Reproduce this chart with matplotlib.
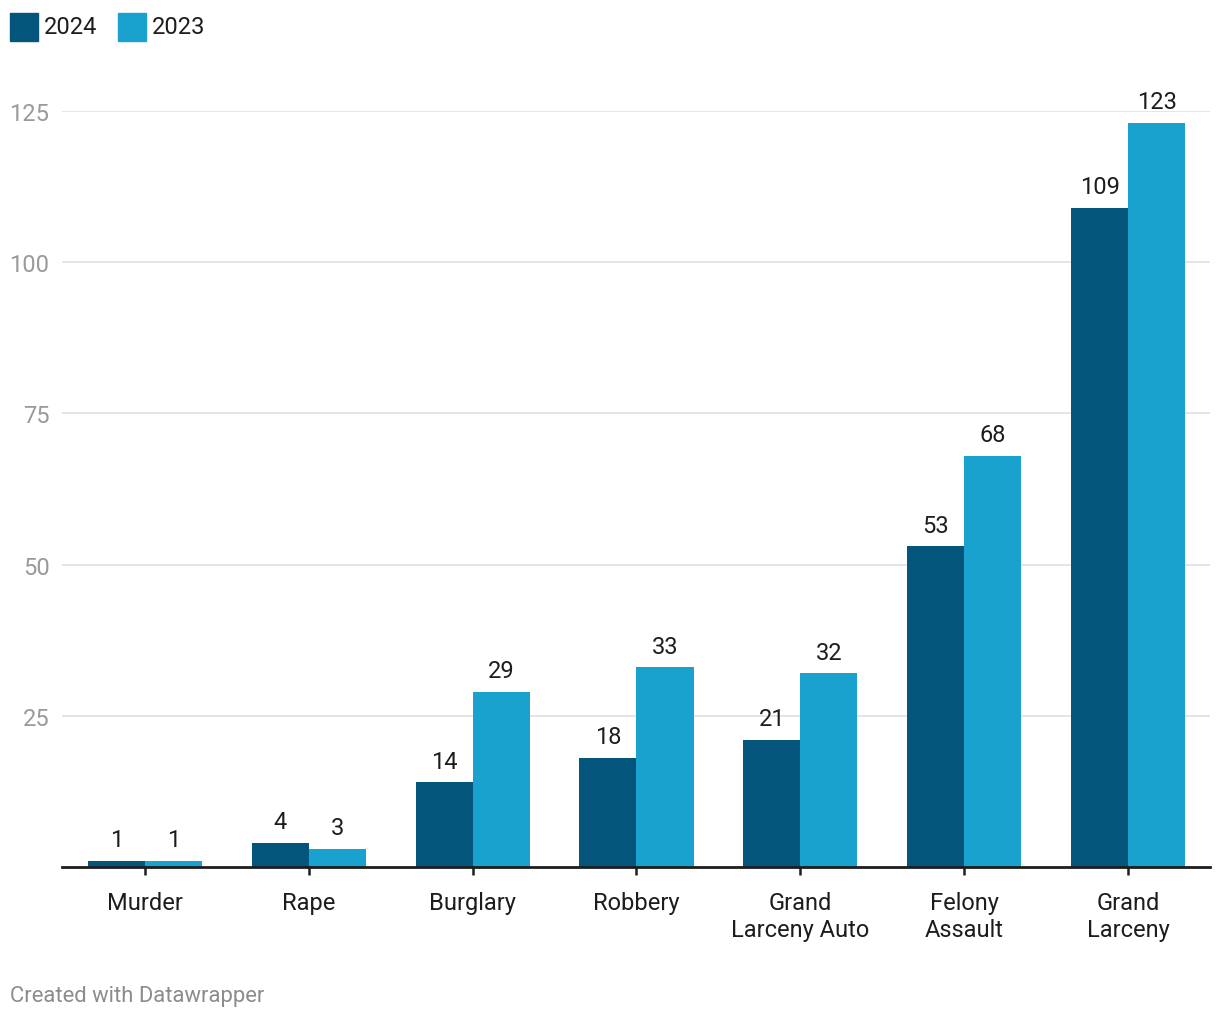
import matplotlib
matplotlib.use("Agg")
import matplotlib.pyplot as plt
import numpy as np
from matplotlib.patches import Rectangle

categories = ["Murder", "Rape", "Burglary", "Robbery", "Grand\nLarceny Auto", "Felony\nAssault", "Grand\nLarceny"]
values_2024 = [1, 4, 14, 18, 21, 53, 109]
values_2023 = [1, 3, 29, 33, 32, 68, 123]
series_names = ["2024", "2023"]
yticks = [25, 50, 75, 100, 125]

c24 = "#03557b"
c23 = "#19a2cd"

plt.rcParams['font.family'] = ['Roboto', 'DejaVu Sans']

fig = plt.figure(figsize=(12.2, 10.2), dpi=100)
ax = fig.add_axes([62/1220, 1 - 868/1020, (1210-62)/1220, (868-112)/1020])

x = np.arange(len(categories))
w = 0.348
b1 = ax.bar(x - w/2, values_2024, w, color=c24, zorder=3)
b2 = ax.bar(x + w/2, values_2023, w, color=c23, zorder=3)

for bars, vals in ((b1, values_2024), (b2, values_2023)):
    for r, v in zip(bars, vals):
        ax.annotate(str(v), (r.get_x() + r.get_width()/2, v), xytext=(0, 7),
                    textcoords="offset points", ha="center", va="bottom",
                    fontsize=17, color="#1d1d1d", clip_on=False)

ax.set_xlim(-0.506, 6.5)
ax.set_ylim(0, 125)
ax.set_yticks(yticks)
ax.yaxis.grid(True, color="#e3e3e3", linewidth=1.3, zorder=0)
ax.tick_params(axis="y", length=0, pad=9, labelsize=17, labelcolor="#9a9a9a")
for t in ax.get_yticklabels():
    t.set_horizontalalignment("right")
ax.set_xticks(x)
ax.set_xticklabels(categories, fontsize=17, color="#1d1d1d", linespacing=1.22)
ax.tick_params(axis="x", length=6, width=1.8, color="#1d1d1d", pad=11)
for s in ["top", "right", "left"]:
    ax.spines[s].set_visible(False)
ax.spines["bottom"].set_color("#1d1d1d")
ax.spines["bottom"].set_linewidth(2)
ax.spines["bottom"].set_zorder(4)

# legend
for i, (name, col, xs) in enumerate(zip(series_names, [c24, c23], [10, 118])):
    fig.patches.append(Rectangle((xs/1220, 1 - 42/1020), 28/1220, 28/1020,
                                 transform=fig.transFigure, color=col))
    fig.text((xs + 34)/1220, 1 - 27/1020, name, fontsize=17, color="#1d1d1d",
             ha="left", va="center")

fig.text(10/1220, 1 - 997/1020, "Created with Datawrapper", fontsize=15.8,
         color="#8c8c8c", ha="left", va="center")

fig.savefig("out.png", dpi=100, facecolor="white")
